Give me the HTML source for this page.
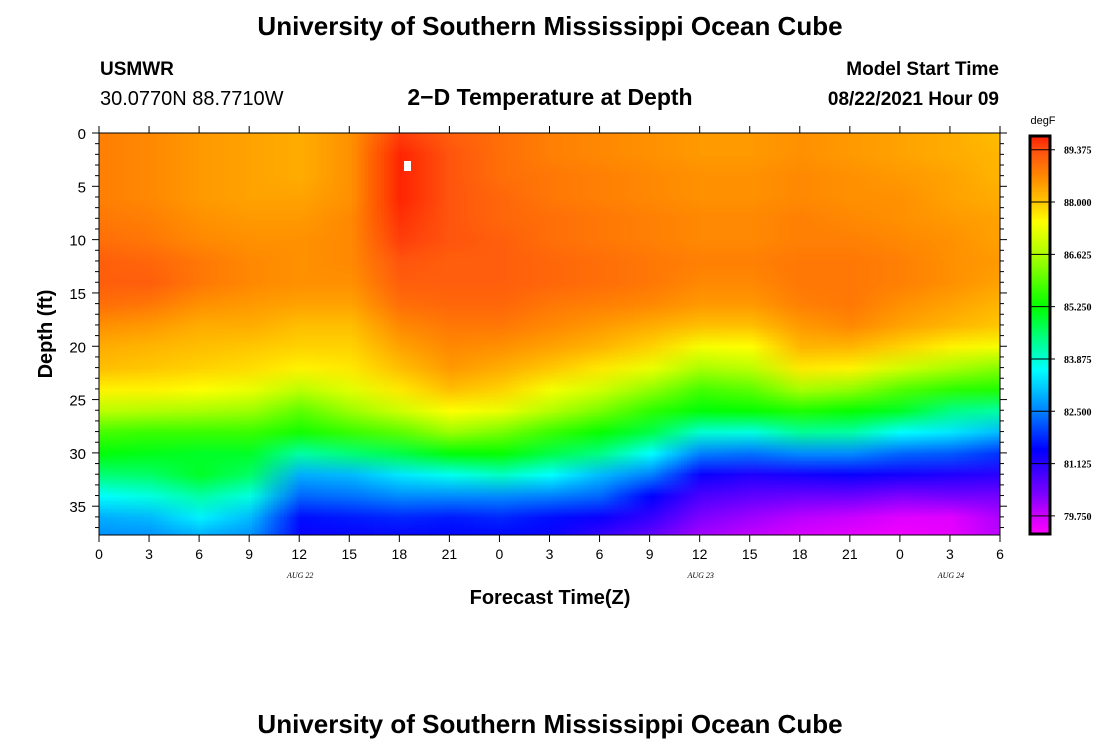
<!DOCTYPE html>
<html><head><meta charset="utf-8"><style>
body{margin:0;background:#fff;width:1100px;height:750px;overflow:hidden;position:relative;font-family:"Liberation Sans",sans-serif}
canvas,svg{position:absolute;left:0;top:0}
</style></head><body>
<canvas id="cv" width="1100" height="750"></canvas>
<svg id="sv" width="1100" height="750" font-family="Liberation Sans, sans-serif">
<text x="550" y="35" text-anchor="middle" font-size="26" font-weight="bold">University of Southern Mississippi Ocean Cube</text>
<text x="100" y="75" font-size="19" font-weight="bold">USMWR</text>
<text x="100" y="105" font-size="20">30.0770N  88.7710W</text>
<text x="550" y="105" text-anchor="middle" font-size="23" font-weight="bold">2−D Temperature at Depth</text>
<text x="999" y="75" text-anchor="end" font-size="19" font-weight="bold">Model Start Time</text>
<text x="999" y="105" text-anchor="end" font-size="19" font-weight="bold">08/22/2021 Hour 09</text>
<text transform="translate(52,334) rotate(-90)" text-anchor="middle" font-size="20" font-weight="bold">Depth (ft)</text>
<text x="550" y="604" text-anchor="middle" font-size="20" font-weight="bold">Forecast Time(Z)</text>
<text x="550" y="733" text-anchor="middle" font-size="26" font-weight="bold">University of Southern Mississippi Ocean Cube</text>
<text x="1043" y="124" text-anchor="middle" font-size="11">degF</text>
<rect x="404" y="161" width="7" height="10" fill="#fff"/>
<g id="axes"></g>
</svg>
<script>
const times=[0,3,6,9,12,15,18,21,24,27,30,33,36,39,42,45,48,51,54];
const depths=[0,2,4,6,8,10,12,14,16,18,20,22,24,26,28,30,32,34,36,38];
const xTickLabels=["0","3","6","9","12","15","18","21","0","3","6","9","12","15","18","21","0","3","6"];
const yTickLabels=["0","5","10","15","20","25","30","35"];
const cbarLabels=["89.375","88.000","86.625","85.250","83.875","82.500","81.125","79.750"];
const dayLabels=["AUG  22","AUG  23","AUG  24"];
const dayHours=[12,36,51];
// temperature (degF) per time column, values at depths above
const temps=[
[88.8,88.8,88.8,88.8,88.9,89.0,89.2,89.2,89.0,88.6,88.3,88.1,87.6,86.8,85.8,85.2,84.5,83.6,82.9,82.6],
[88.7,88.7,88.7,88.7,88.8,88.9,89.1,89.2,88.9,88.5,88.2,88.0,87.6,86.7,85.7,85.1,84.6,83.8,83.0,82.6],
[88.5,88.5,88.5,88.5,88.6,88.7,88.9,88.9,88.6,88.3,88.1,87.9,87.5,86.6,85.7,85.0,85.0,84.2,83.5,82.8],
[88.4,88.4,88.4,88.4,88.5,88.6,88.7,88.7,88.5,88.3,88.0,87.8,87.3,86.5,85.7,85.0,84.6,83.8,83.0,82.6],
[88.3,88.3,88.3,88.4,88.5,88.6,88.6,88.6,88.4,88.1,87.9,87.6,86.8,86.0,85.4,84.2,82.9,82.3,81.6,81.4],
[88.6,88.6,88.6,88.6,88.7,88.7,88.7,88.6,88.4,88.1,87.9,87.7,87.2,86.5,85.7,84.5,83.0,82.4,81.7,81.4],
[89.5,89.7,89.7,89.7,89.6,89.5,89.3,89.2,89.0,88.7,88.4,88.1,87.7,87.0,86.0,84.8,83.4,82.6,81.8,81.4],
[89.2,89.3,89.3,89.3,89.3,89.3,89.2,89.2,89.1,88.9,88.7,88.5,88.1,87.5,86.5,85.2,83.7,82.6,81.7,81.5],
[89.0,89.0,89.0,89.1,89.1,89.2,89.2,89.2,89.1,88.9,88.6,88.3,87.9,87.3,86.2,85.3,84.0,82.6,81.8,81.5],
[88.8,88.8,88.9,88.9,89.0,89.0,89.1,89.1,88.9,88.7,88.4,88.0,87.4,86.7,85.7,84.8,83.6,82.5,81.6,81.4],
[88.7,88.7,88.8,88.8,88.9,88.9,89.0,89.0,88.8,88.5,88.2,87.7,87.0,86.2,85.3,84.4,83.0,82.3,81.4,80.9],
[88.6,88.6,88.7,88.7,88.8,88.8,88.9,88.9,88.7,88.3,87.9,87.3,86.4,85.6,84.8,83.6,82.5,81.5,81.0,80.5],
[88.5,88.5,88.6,88.6,88.7,88.7,88.8,88.7,88.5,88.1,87.4,86.6,85.8,85.2,83.9,82.5,81.4,80.8,80.3,80.0],
[88.5,88.5,88.6,88.6,88.7,88.7,88.8,88.7,88.5,88.1,87.5,86.8,86.0,85.3,83.8,82.4,81.2,80.6,80.1,79.8],
[88.6,88.6,88.7,88.7,88.8,88.8,88.9,88.9,88.8,88.5,88.2,87.7,86.6,85.5,84.3,82.6,81.3,80.5,79.9,79.6],
[88.5,88.5,88.6,88.6,88.7,88.8,88.9,88.9,88.9,88.7,88.2,87.6,86.4,85.3,84.2,82.6,81.4,80.5,79.8,79.5],
[88.4,88.4,88.5,88.6,88.6,88.7,88.8,88.8,88.6,88.4,87.9,87.0,85.9,85.0,83.6,82.3,81.3,80.3,79.6,79.4],
[88.3,88.3,88.4,88.4,88.5,88.6,88.6,88.6,88.4,88.2,87.6,86.6,85.6,84.4,83.4,82.2,81.2,80.4,79.6,79.5],
[88.1,88.2,88.2,88.3,88.4,88.4,88.5,88.4,88.2,88.0,87.4,86.3,85.5,84.2,83.0,81.9,81.1,80.4,80.0,79.9]
];
const PX0=99,PX1=1000,PY0=133,PY1=535,TMAX=54,DMAX=37.7;
const xs=t=>PX0+t*(PX1-PX0)/TMAX;
const ys=d=>PY0+d*(PY1-PY0)/DMAX;
const CB_TOP=137,CB_BOT=533,VTOP=89.71,VBOT=79.3;
const cbY=v=>CB_TOP+(VTOP-v)*(CB_BOT-CB_TOP)/(VTOP-VBOT);
const stops=[[89.75,[255,30,0]],[89.375,[255,80,16]],[88.6,[255,145,0]],[88.0,[255,200,0]],[87.5,[255,255,0]],[86.6,[170,255,0]],[85.25,[0,255,0]],[84.3,[0,255,150]],[83.6,[0,255,255]],[82.5,[0,128,255]],[81.5,[0,0,255]],[81.125,[40,0,255]],[80.3,[128,0,255]],[79.75,[210,0,255]],[79.3,[255,0,255]]];
function col(v){
 if(v>=stops[0][0])return stops[0][1];
 for(let i=0;i<stops.length-1;i++){const a=stops[i],b=stops[i+1];
  if(v<=a[0]&&v>=b[0]){const f=(a[0]-v)/(a[0]-b[0]);return a[1].map((c,k)=>Math.round(c+(b[1][k]-c)*f));}}
 return stops[stops.length-1][1];
}
const cv=document.getElementById('cv'),ctx=cv.getContext('2d');
const sm=document.createElement('canvas');sm.width=times.length;sm.height=depths.length;
const sc=sm.getContext('2d'),id=sc.createImageData(times.length,depths.length);
for(let i=0;i<times.length;i++)for(let j=0;j<depths.length;j++){const c=col(temps[i][j]);const p=(j*times.length+i)*4;id.data[p]=c[0];id.data[p+1]=c[1];id.data[p+2]=c[2];id.data[p+3]=255;}
sc.putImageData(id,0,0);
ctx.save();ctx.beginPath();ctx.rect(PX0,PY0,PX1-PX0,PY1-PY0);ctx.clip();
ctx.imageSmoothingEnabled=true;
const dx0=xs(times[0]-1.5),dx1=xs(times[times.length-1]+1.5),dy0=ys(depths[0]-1),dy1=ys(depths[depths.length-1]+1);
ctx.drawImage(sm,dx0,dy0,dx1-dx0,dy1-dy0);ctx.restore();
// colorbar
for(let y=CB_TOP;y<=CB_BOT;y++){const v=VTOP-(y-CB_TOP)*(VTOP-VBOT)/(CB_BOT-CB_TOP);const c=col(v);ctx.fillStyle=`rgb(${c})`;ctx.fillRect(1031,y,18,1);}
const NS='http://www.w3.org/2000/svg',g=document.getElementById('axes');
function mk(tag,attrs,txt){const e=document.createElementNS(NS,tag);for(const k in attrs)e.setAttribute(k,attrs[k]);if(txt!==undefined)e.textContent=txt;g.appendChild(e);return e;}
let e=mk('rect',{x:PX0,y:PY0,width:PX1-PX0,height:PY1-PY0,fill:'none',stroke:'#000','stroke-width':1});


for(let d=0;d<=37;d++){const y=ys(d),L=d%5===0?7:4;
 mk('line',{x1:PX0-L,x2:PX0,y1:y,y2:y,stroke:'#000'});mk('line',{x1:PX1,x2:PX1+L,y1:y,y2:y,stroke:'#000'});}
yTickLabels.forEach((l,i)=>{e=mk('text',{x:PX0-13,y:ys(i*5)+6,'text-anchor':'end','font-size':15},l);
 
 });
for(let h=0;h<=TMAX;h+=3){const x=xs(h);mk('line',{x1:x,x2:x,y1:PY1,y2:PY1+7,stroke:'#000'});mk('line',{x1:x,x2:x,y1:PY0-7,y2:PY0,stroke:'#000'});}
xTickLabels.forEach((l,i)=>{e=mk('text',{x:xs(i*3),y:PY1+24,'text-anchor':'middle','font-size':14},l);
 
 });
dayLabels.forEach((l,i)=>{e=mk('text',{x:xs(dayHours[i])+1,y:578,'text-anchor':'middle','font-size':8,'font-style':'italic','font-family':'Liberation Serif, serif'},l);
 
 });
e=mk('rect',{x:1030,y:CB_TOP-1,width:20,height:CB_BOT-CB_TOP+2,fill:'none',stroke:'#000','stroke-width':3});


cbarLabels.forEach(l=>{const y=cbY(parseFloat(l));mk('line',{x1:1031,x2:1055,y1:y,y2:y,stroke:'#000'});
 e=mk('text',{x:1064,y:y+4,'font-size':10,'font-weight':'bold','font-family':'Liberation Serif, serif'},l);
 
 });
</script>
</body></html>
